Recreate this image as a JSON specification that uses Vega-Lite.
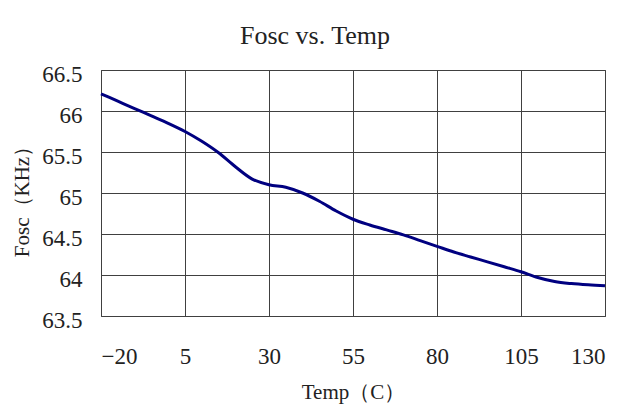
{
  "$schema": "https://vega.github.io/schema/vega-lite/v6.json",
  "autosize": {"type": "none"},
  "padding": {"left": 101, "top": 70, "right": 24, "bottom": 89},
  "width": 504,
  "height": 246,
  "background": "white",
  "title": {
    "text": "Fosc vs. Temp",
    "font": "Liberation Serif",
    "fontSize": 26,
    "fontWeight": "normal",
    "color": "#222222",
    "anchor": "middle",
    "dx": -38,
    "offset": 14
  },
  "data": {
    "values": [
      {"temp": -20, "fosc": 66.21},
      {"temp": -15, "fosc": 66.12},
      {"temp": -10, "fosc": 66.03},
      {"temp": -5, "fosc": 65.94},
      {"temp": 0, "fosc": 65.85},
      {"temp": 5, "fosc": 65.75},
      {"temp": 10, "fosc": 65.63},
      {"temp": 15, "fosc": 65.49},
      {"temp": 20, "fosc": 65.32},
      {"temp": 25, "fosc": 65.17},
      {"temp": 30, "fosc": 65.1},
      {"temp": 35, "fosc": 65.07},
      {"temp": 40, "fosc": 65.0},
      {"temp": 45, "fosc": 64.9},
      {"temp": 50, "fosc": 64.78},
      {"temp": 55, "fosc": 64.68},
      {"temp": 60, "fosc": 64.61},
      {"temp": 65, "fosc": 64.55},
      {"temp": 70, "fosc": 64.49},
      {"temp": 75, "fosc": 64.42},
      {"temp": 80, "fosc": 64.35},
      {"temp": 85, "fosc": 64.28},
      {"temp": 90, "fosc": 64.22},
      {"temp": 95, "fosc": 64.16},
      {"temp": 100, "fosc": 64.1},
      {"temp": 105, "fosc": 64.04},
      {"temp": 110, "fosc": 63.97},
      {"temp": 115, "fosc": 63.92},
      {"temp": 120, "fosc": 63.895},
      {"temp": 125, "fosc": 63.88},
      {"temp": 130, "fosc": 63.87}
    ]
  },
  "mark": {
    "type": "line",
    "color": "#000080",
    "strokeWidth": 3,
    "interpolate": "monotone"
  },
  "encoding": {
    "x": {
      "field": "temp",
      "type": "quantitative",
      "scale": {"domain": [-20, 130], "nice": false, "zero": false},
      "axis": {
        "title": "Temp（C）",
        "values": [-20, 5, 30, 55, 80, 105, 130],
        "format": "d",
        "ticks": false,
        "domain": false,
        "labelFont": "Liberation Serif",
        "labelFontSize": 23,
        "labelPadding": 29,
        "titleY": 82,
        "titleBaseline": "alphabetic"
      }
    },
    "y": {
      "field": "fosc",
      "type": "quantitative",
      "scale": {"domain": [63.5, 66.5], "nice": false, "zero": false},
      "axis": {
        "title": "Fosc（KHz）",
        "values": [63.5, 64, 64.5, 65, 65.5, 66, 66.5],
        "labelExpr": "'' + datum.value",
        "ticks": false,
        "domain": false,
        "labelFont": "Liberation Serif",
        "labelFontSize": 23,
        "labelPadding": 19,
        "labelOffset": 4,
        "titleX": -79,
        "titleY": 126,
        "titleBaseline": "middle",
        "titleAlign": "center",
        "titleAngle": 270
      }
    }
  },
  "config": {
    "view": {"stroke": "#404040", "strokeWidth": 1},
    "axis": {
      "grid": true,
      "gridColor": "#404040",
      "gridOpacity": 1,
      "gridWidth": 1,
      "labelColor": "#222222",
      "titleFont": "Liberation Serif",
      "titleFontSize": 21,
      "titleFontWeight": "normal",
      "titleColor": "#222222"
    }
  }
}
